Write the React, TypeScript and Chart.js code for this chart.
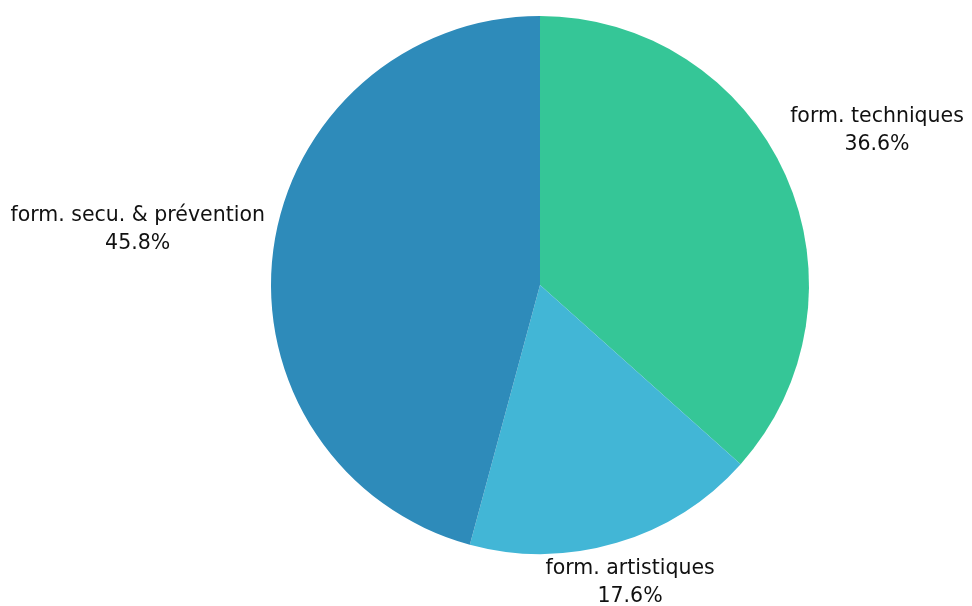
import React, { useEffect, useRef } from "react";
import { Chart, registerables } from "chart.js";

Chart.register(...registerables);

const categories = ["form. techniques", "form. artistiques", "form. secu. & prévention"];
const values = [36.6, 17.6, 45.8];
const colors = ["#35c697", "#42b6d6", "#2e8bba"];

// label block placement: pixel nudge per slice from the radial anchor
const labelNudge = [
  [55, -28],
  [2, 1],
  [-96, -15],
];

const outsideLabels = {
  id: "outsideLabels",
  afterDraw(chart: any) {
    const ctx = chart.ctx;
    const meta = chart.getDatasetMeta(0);
    ctx.save();
    ctx.font = "20.5px 'DejaVu Sans', sans-serif";
    ctx.fillStyle = "#111";
    ctx.textAlign = "center";
    ctx.textBaseline = "middle";
    const total = values.reduce((a, b) => a + b, 0);
    meta.data.forEach((arc: any, i: number) => {
      const { x, y, startAngle, endAngle, outerRadius } = arc.getProps(
        ["x", "y", "startAngle", "endAngle", "outerRadius"],
        true
      );
      const mid = (startAngle + endAngle) / 2;
      const r = outerRadius + 40;
      const cx = x + Math.cos(mid) * r + labelNudge[i][0];
      const cy = y + Math.sin(mid) * r + labelNudge[i][1];
      const pct = ((values[i] / total) * 100).toFixed(1) + "%";
      ctx.fillText(categories[i], cx, cy - 14);
      ctx.fillText(pct, cx, cy + 14);
    });
    ctx.restore();
  },
};

export default function App() {
  const ref = useRef<HTMLCanvasElement | null>(null);
  useEffect(() => {
    if (!ref.current) return;
    const chart = new Chart(ref.current, {
      type: "pie",
      data: {
        labels: categories,
        datasets: [
          {
            data: values,
            backgroundColor: colors,
            borderWidth: 0,
          },
        ],
      },
      options: {
        animation: false,
        responsive: true,
        maintainAspectRatio: false,
        layout: { padding: { top: 16, bottom: 52, left: 271, right: 163 } },
        plugins: {
          legend: { display: false },
          tooltip: { enabled: false },
        },
      },
      plugins: [outsideLabels],
    });
    return () => chart.destroy();
  }, []);
  return (
    <div style={{ position: "fixed", left: 0, top: 0, width: 972, height: 606, background: "#fff" }}>
      <canvas ref={ref} />
    </div>
  );
}
